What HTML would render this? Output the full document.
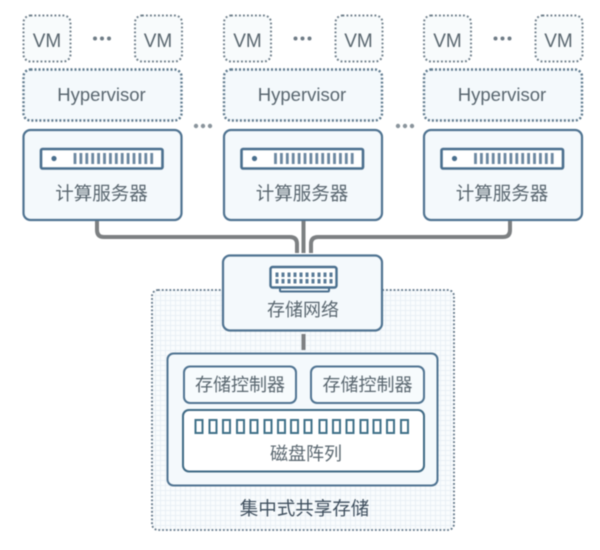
<!DOCTYPE html>
<html><head><meta charset="utf-8"><style>
html,body{margin:0;padding:0;background:#fff}
svg{display:block;filter:blur(.55px)}
text{font-family:"Liberation Sans","Noto Sans CJK SC",sans-serif;fill:#59666f;text-anchor:middle}
</style></head><body>
<svg width="600" height="550" viewBox="0 0 600 550" xmlns="http://www.w3.org/2000/svg">
<defs>
<pattern id="g" width="5" height="5" patternUnits="userSpaceOnUse"><rect width="5" height="5" fill="#fafcfd"/><path d="M0 .5H5M.5 0V5" stroke="#e9f0f6" stroke-width="1"/></pattern>
<g id="col">
<rect x="23.500" y="15.500" width="47" height="46" rx="7" fill="#f8fbfc" stroke="#6f7f8b" stroke-width="2" stroke-dasharray="1.800 2.200"/>
<rect x="135" y="15.500" width="47" height="46" rx="7" fill="#f8fbfc" stroke="#6f7f8b" stroke-width="2" stroke-dasharray="1.800 2.200"/>
<text x="47" y="47" font-size="19">VM</text>
<text x="158" y="47" font-size="19">VM</text>
<circle cx="95" cy="38.500" r="2" fill="#6f7c86"/><circle cx="102" cy="38.500" r="2" fill="#6f7c86"/><circle cx="109" cy="38.500" r="2" fill="#6f7c86"/>
<rect x="23.500" y="69.500" width="158" height="51" rx="7" fill="#f4f9fc" stroke="#5f7a8e" stroke-width="2.400" stroke-dasharray="2 2"/>
<text x="101.500" y="101" font-size="18.500">Hypervisor</text>
<rect x="23.500" y="130" width="158" height="90" rx="7" fill="#f4f9fc" stroke="#4f7391" stroke-width="2.200"/>
<rect x="41" y="149" width="121.500" height="19.500" rx="1.500" fill="#fff" stroke="#4a6f8e" stroke-width="2.600"/>
<circle cx="54" cy="158.500" r="2.600" fill="#4a6f8e"/>
<path d="M75 153V164M80.900 153V164M86.800 153V164M92.700 153V164M98.600 153V164M104.500 153V164M110.400 153V164M116.300 153V164M122.200 153V164M128.100 153V164M134 153V164M139.900 153V164M145.800 153V164M151.700 153V164" stroke="#6b87a0" stroke-width="2.800"/>
<text x="101.500" y="200" font-size="18.500">计算服务器</text>
</g>
</defs>
<rect width="600" height="550" fill="#fff"/>
<!-- outer storage -->
<rect x="152" y="290" width="302" height="240" rx="6" fill="url(#g)" stroke="#5f7486" stroke-width="1.800" stroke-dasharray="1.800 2"/>
<!-- columns -->
<use href="#col"/>
<use href="#col" x="200.500"/>
<use href="#col" x="400.500"/>
<circle cx="196" cy="126" r="2.200" fill="#8a949c"/><circle cx="203" cy="126" r="2.200" fill="#8a949c"/><circle cx="210" cy="126" r="2.200" fill="#8a949c"/>
<circle cx="398" cy="126" r="2.200" fill="#8a949c"/><circle cx="405" cy="126" r="2.200" fill="#8a949c"/><circle cx="412" cy="126" r="2.200" fill="#8a949c"/>
<!-- connectors -->
<g fill="none" stroke="#7d8082" stroke-width="4">
<path d="M97 221V230Q97 237 104 237H290Q297 237 297 244V253"/>
<path d="M303.500 221V253"/>
<path d="M510 221V230Q510 237 503 237H318Q311 237 311 244V253"/>
<path d="M303.500 334V350"/>
</g>
<!-- network -->
<rect x="223" y="255.500" width="159" height="75" rx="7" fill="#f4f9fc" stroke="#4f7391" stroke-width="2.200"/>
<path d="M280 287V290.500Q280 291.500 281 291.500H328Q329 291.500 329 290.500V287" fill="none" stroke="#4a6f8e" stroke-width="2"/>
<rect x="270.500" y="267" width="66" height="20.500" rx="2" fill="#fff" stroke="#4a6f8e" stroke-width="2.400"/>
<path d="M277 272.500V277M283 272.500V277M289 272.500V277M295 272.500V277M301 272.500V277M307 272.500V277M313 272.500V277M319 272.500V277M325 272.500V277M331 272.500V277M277 279V283.500M283 279V283.500M289 279V283.500M295 279V283.500M301 279V283.500M307 279V283.500M313 279V283.500M319 279V283.500M325 279V283.500M331 279V283.500" stroke="#5a7b97" stroke-width="3"/>
<text x="303" y="316" font-size="18">存储网络</text>
<!-- inner box -->
<rect x="167.500" y="353.500" width="270" height="132" rx="6" fill="#f4f9fc" stroke="#4f7391" stroke-width="2"/>
<rect x="184" y="366.500" width="112" height="36.500" rx="6" fill="#f7fbfd" stroke="#4f7391" stroke-width="2"/>
<rect x="311" y="366.500" width="113" height="36.500" rx="6" fill="#f7fbfd" stroke="#4f7391" stroke-width="2"/>
<text x="240" y="391" font-size="18">存储控制器</text>
<text x="367.500" y="391" font-size="18">存储控制器</text>
<rect x="183" y="410" width="241" height="61.500" rx="6" fill="#fff" stroke="#3f6a85" stroke-width="2"/>
<g fill="#fff" stroke="#3f7088" stroke-width="2">
<rect x="195.500" y="420" width="7" height="13"/><rect x="209.500" y="420" width="7" height="13"/><rect x="223" y="420" width="7" height="13"/><rect x="237" y="420" width="7" height="13"/><rect x="250.500" y="420" width="7" height="13"/><rect x="264.500" y="420" width="7" height="13"/><rect x="278" y="420" width="7" height="13"/><rect x="291" y="420" width="7" height="13"/><rect x="304.500" y="420" width="7" height="13"/><rect x="319.500" y="420" width="7" height="13"/><rect x="333" y="420" width="7" height="13"/><rect x="346.500" y="420" width="7" height="13"/><rect x="360.500" y="420" width="7" height="13"/><rect x="373.500" y="420" width="7" height="13"/><rect x="387" y="420" width="7" height="13"/><rect x="401" y="420" width="7" height="13"/>
</g>
<text x="306" y="460" font-size="18">磁盘阵列</text>
<text x="304.500" y="515" font-size="18.500" style="fill:#3f4f5e">集中式共享存储</text>
</svg>
</body></html>
